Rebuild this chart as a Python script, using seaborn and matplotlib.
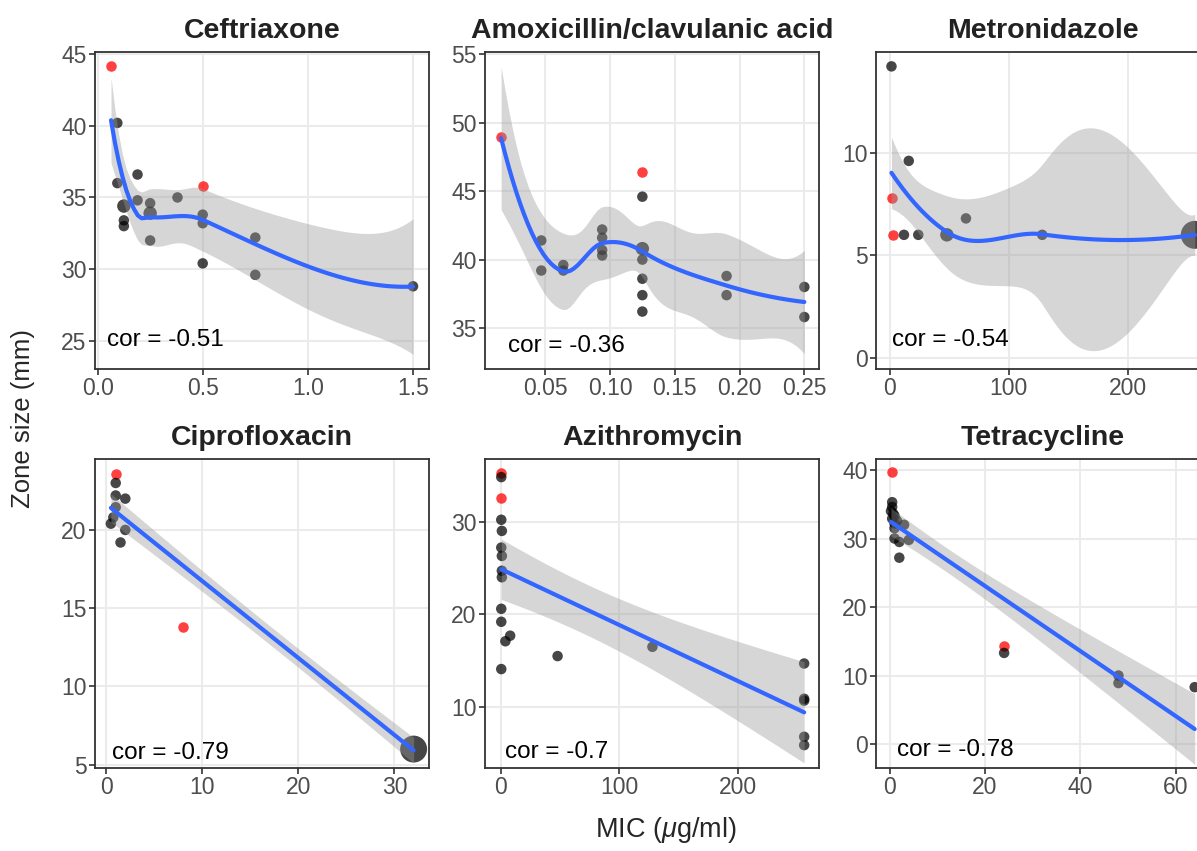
import numpy as np
import pandas as pd
import matplotlib
matplotlib.use('Agg')
import matplotlib.pyplot as plt
import seaborn as sns

# ============================
# Data
# ============================
drugs = ['Ceftriaxone', 'Amoxicillin/clavulanic acid', 'Metronidazole',
         'Ciprofloxacin', 'Azithromycin', 'Tetracycline']
methods = ['loess', 'loess', 'loess', 'lm', 'lm', 'lm']
cor_values = ['-0.51', '-0.36', '-0.54', '-0.79', '-0.7', '-0.78']

# isolates (mic, zone, count)
cef_mic = [0.094, 0.094, 0.125, 0.125, 0.125, 0.19, 0.19, 0.25, 0.25, 0.25, 0.38, 0.5, 0.5, 0.5, 0.75, 0.75, 1.5]
cef_zone = [40.2, 36.0, 34.4, 33.4, 33.0, 36.6, 34.8, 34.6, 33.9, 32.0, 35.0, 33.8, 33.2, 30.4, 32.2, 29.6, 28.8]
cef_n = [1, 1, 2, 1, 1, 1, 1, 1, 2, 1, 1, 1, 1, 1, 1, 1, 1]
cef_ref_mic = [0.064, 0.5]
cef_ref_zone = [44.2, 35.8]

amc_mic = [0.047, 0.047, 0.064, 0.064, 0.094, 0.094, 0.094, 0.094, 0.125, 0.125, 0.125, 0.125, 0.125, 0.125, 0.19, 0.19, 0.25, 0.25]
amc_zone = [41.4, 39.2, 39.6, 39.2, 42.2, 41.6, 40.7, 40.3, 44.6, 40.8, 40.0, 38.6, 37.4, 36.2, 38.8, 37.4, 38.0, 35.8]
amc_n = [1, 1, 1, 1, 1, 1, 1, 1, 1, 2, 1, 1, 1, 1, 1, 1, 1, 1]
amc_ref_mic = [0.016, 0.125]
amc_ref_zone = [49.0, 46.4]

mtz_mic = [1.5, 16, 12, 24, 48, 64, 128, 256]
mtz_zone = [14.2, 9.6, 6.0, 6.0, 6.0, 6.8, 6.0, 6.0]
mtz_n = [1, 1, 1, 1, 2, 1, 1, 12]
mtz_ref_mic = [2, 3]
mtz_ref_zone = [7.8, 6.0]

cip_mic = [1, 1, 2, 1, 0.75, 0.5, 2, 1.5, 32]
cip_zone = [23.0, 22.2, 22.0, 21.45, 20.8, 20.4, 20.0, 19.2, 6.0]
cip_n = [1, 1, 1, 1, 1, 1, 1, 1, 11]
cip_ref_mic = [1, 8]
cip_ref_zone = [23.6, 13.8]

azm_mic = [0.5, 0.5, 1, 0.5, 1, 1, 1, 0.5, 0.5, 4, 8, 0.5, 48, 128, 256, 256, 256, 256, 256]
azm_zone = [34.8, 30.2, 29.0, 27.2, 26.3, 24.7, 24.0, 20.6, 19.2, 17.1, 17.7, 14.1, 15.5, 16.5, 14.7, 10.9, 10.7, 6.8, 5.9]
azm_n = [1] * 19
azm_ref_mic = [0.5, 0.5]
azm_ref_zone = [35.2, 32.6]

tet_mic = [0.5, 0.5, 0.25, 0.75, 1, 0.5, 1.5, 1, 1, 3, 1, 2, 4, 2, 24, 48, 48, 64]
tet_zone = [35.3, 34.6, 34.0, 33.6, 33.3, 32.9, 32.6, 32.2, 31.5, 32.0, 30.0, 29.5, 29.8, 27.2, 13.3, 10.0, 8.9, 8.3]
tet_n = [1] * 18
tet_ref_mic = [0.5, 24]
tet_ref_zone = [39.7, 14.3]

isolates = [(cef_mic, cef_zone, cef_n), (amc_mic, amc_zone, amc_n), (mtz_mic, mtz_zone, mtz_n),
            (cip_mic, cip_zone, cip_n), (azm_mic, azm_zone, azm_n), (tet_mic, tet_zone, tet_n)]
references = [(cef_ref_mic, cef_ref_zone), (amc_ref_mic, amc_ref_zone), (mtz_ref_mic, mtz_ref_zone),
              (cip_ref_mic, cip_ref_zone), (azm_ref_mic, azm_ref_zone), (tet_ref_mic, tet_ref_zone)]

x_ticks = [[0, 0.5, 1.0, 1.5], [0.05, 0.10, 0.15, 0.20, 0.25], [0, 100, 200],
           [0, 10, 20, 30], [0, 100, 200], [0, 20, 40, 60]]
x_ticklabels = [['0.0', '0.5', '1.0', '1.5'], ['0.05', '0.10', '0.15', '0.20', '0.25'], ['0', '100', '200'],
                ['0', '10', '20', '30'], ['0', '100', '200'], ['0', '20', '40', '60']]
y_ticks = [[25, 30, 35, 40, 45], [35, 40, 45, 50, 55], [0, 5, 10],
           [5, 10, 15, 20], [10, 20, 30], [0, 10, 20, 30, 40]]
x_lims = [(-0.012, 1.576), (0.0036, 0.2613), (-11.5, 268.7), (-1.15, 33.6), (-13.2, 268.5), (-2.9, 67.2)]
y_lims = [(23.03, 45.15), (32.0, 55.18), (-0.53, 14.9), (4.79, 24.53), (3.43, 36.75), (-3.5, 41.6)]


# ============================
# Smoothers
# ============================
def t975(df):
    z = 1.959964
    return (z + (z**3 + z) / (4 * df) + (5 * z**5 + 16 * z**3 + 3 * z) / (96 * df**2)
            + (3 * z**7 + 19 * z**5 + 17 * z**3 - 15 * z) / (384 * df**3))


def loess_band(x, y, grid, span=0.75, cell=0.2):
    # local quadratic fit on a k-d tree of vertices + cubic Hermite interpolation (like R loess)
    n = len(x)
    q = int(np.floor(n * span))

    def local_rows(x0):
        d = np.abs(x - x0)
        h = np.sort(d)[q - 1]
        u = np.clip(d / h, 0, 1)
        w = (1 - u**3)**3
        X = np.column_stack([np.ones(n), x - x0, (x - x0)**2])
        XtW = X.T * w
        B = np.linalg.pinv(XtW @ X, rcond=1e-10) @ XtW
        return B[0], B[1]

    xs = np.sort(x)
    mu = 0.005 * (xs[-1] - xs[0])
    fc = int(np.floor(n * span * cell))
    verts = {xs[0] - mu, xs[-1] + mu}

    def split(lo, up, vlo, vhi):
        if up - lo + 1 <= fc:
            return
        m = (lo + up) // 2
        off = 0
        while lo <= m + off < up:
            if xs[m + off] == xs[m + off + 1]:
                off = -off
                if off >= 0:
                    off += 1
            else:
                m = m + off
                break
        v = xs[m]
        if v == vlo or v == vhi:
            return
        verts.add(v)
        split(lo, m, vlo, v)
        split(m + 1, up, v, vhi)

    split(0, n - 1, xs[0] - mu, xs[-1] + mu)
    V = np.array(sorted(verts))
    rows = [local_rows(v) for v in V]
    Lv = np.array([r[0] for r in rows])
    Sv = np.array([r[1] for r in rows])

    def interp(z):
        j = min(max(np.searchsorted(V, z) - 1, 0), len(V) - 2)
        hh = V[j + 1] - V[j]
        t = (z - V[j]) / hh
        return ((2 * t**3 - 3 * t**2 + 1) * Lv[j] + (t**3 - 2 * t**2 + t) * hh * Sv[j]
                + (-2 * t**3 + 3 * t**2) * Lv[j + 1] + (t**3 - t**2) * hh * Sv[j + 1])

    L = np.array([interp(v) for v in x])
    R = np.eye(n) - L
    M = R.T @ R
    d1 = np.trace(M)
    d2 = np.trace(M @ M)
    sigma = np.sqrt(np.sum((y - L @ y)**2) / d1)
    Lg = np.array([interp(g) for g in grid])
    fit = Lg @ y
    se = sigma * np.sqrt((Lg**2).sum(axis=1))
    t = t975(d1**2 / d2)
    return fit, fit - t * se, fit + t * se


def lm_band(x, y, grid):
    n = len(x)
    b, a = np.polyfit(x, y, 1)
    s = np.sqrt(np.sum((y - (a + b * x))**2) / (n - 2))
    sxx = np.sum((x - x.mean())**2)
    fit = a + b * grid
    se = s * np.sqrt(1 / n + (grid - x.mean())**2 / sxx)
    t = t975(n - 2)
    return fit, fit - t * se, fit + t * se


# point size: diameter linear in sqrt(count), 10.5 px for 1 up to 28 px for the largest count
max_count = max(max(iso[2]) for iso in isolates)


def point_area(k):
    d_px = 10.5 + 17.5 * (np.sqrt(k) - 1) / (np.sqrt(max_count) - 1)
    return (d_px * 0.72)**2


# ============================
# Style
# ============================
sns.set_theme(style='whitegrid')
plt.rcParams['font.family'] = ['Liberation Sans', 'DejaVu Sans']
plt.rcParams['mathtext.fontset'] = 'custom'
plt.rcParams['mathtext.it'] = 'Liberation Sans:italic'
plt.rcParams['mathtext.rm'] = 'Liberation Sans'
plt.rcParams.update({
    'axes.edgecolor': '#333333', 'axes.linewidth': 1.3,
    'grid.color': '#EBEBEB', 'grid.linewidth': 1.5,
    'xtick.bottom': True, 'ytick.left': True,
    'xtick.major.size': 4, 'ytick.major.size': 4,
    'xtick.major.width': 1.2, 'ytick.major.width': 1.2,
    'xtick.color': '#333333', 'ytick.color': '#333333',
    'xtick.labelcolor': '#4D4D4D', 'ytick.labelcolor': '#4D4D4D',
    'xtick.labelsize': 16.5, 'ytick.labelsize': 16.5,
    'xtick.major.pad': 2, 'ytick.major.pad': 2,
})

fig = plt.figure(figsize=(11.97, 8.51), dpi=100)
col_left = [0.0794, 0.4052, 0.7318]
row_bottom = [0.5664, 0.0975]
row_height = [0.3725, 0.3631]
panel_w = 0.2790
text_pos = [(0.036, 0.091), (0.069, 0.073), (0.048, 0.092), (0.05, 0.048), (0.06, 0.052), (0.063, 0.058)]

for i, drug in enumerate(drugs):
    r, c = divmod(i, 3)
    ax = fig.add_axes([col_left[c], row_bottom[r], panel_w, row_height[r]])
    ax.set_axisbelow(True)

    mic, zone, cnt = isolates[i]
    ref_mic, ref_zone = references[i]
    df = pd.DataFrame({'mic': mic, 'zone': zone, 'n': cnt})
    ref = pd.DataFrame({'mic': ref_mic, 'zone': ref_zone})

    # reference strains and isolates
    sns.scatterplot(data=ref, x='mic', y='zone', ax=ax, color='#FF0000', alpha=0.75,
                    s=point_area(1), linewidth=0, zorder=2, legend=False)
    sizes = {k: point_area(k) for k in sorted(set(cnt))}
    sns.scatterplot(data=df, x='mic', y='zone', size='n', sizes=sizes, ax=ax, color='black',
                    alpha=0.72, linewidth=0, zorder=2, legend=False)

    # smoother on all observations (counts expanded)
    xs = np.concatenate([np.repeat(mic, cnt), ref_mic]).astype(float)
    ys = np.concatenate([np.repeat(zone, cnt), ref_zone]).astype(float)
    grid = np.linspace(xs.min(), xs.max(), 80)
    if methods[i] == 'loess':
        fit, lo, hi = loess_band(xs, ys, grid)
    else:
        fit, lo, hi = lm_band(xs, ys, grid)
    ax.fill_between(grid, lo, hi, color='#999999', alpha=0.4, linewidth=0, zorder=3)
    sns.lineplot(x=grid, y=fit, ax=ax, color='#3366FF', linewidth=3, zorder=4)

    ax.set_xlim(*x_lims[i])
    ax.set_ylim(*y_lims[i])
    ax.set_xticks(x_ticks[i])
    ax.set_xticklabels(x_ticklabels[i])
    ax.set_yticks(y_ticks[i])
    ax.set_xlabel('')
    ax.set_ylabel('')
    ax.set_title(drug, fontsize=20.5, fontweight='bold', color='#222222', pad=10)
    ax.text(text_pos[i][0], text_pos[i][1], 'cor = ' + cor_values[i], transform=ax.transAxes,
            fontsize=17.5, color='black', ha='left', va='center', zorder=5)

fig.text(0.019, 0.508, 'Zone size (mm)', rotation=90, ha='center', va='center', fontsize=18.5)
fig.text(0.556, 0.025, r'MIC ($\mu$g/ml)', ha='center', va='center', fontsize=19.5)

plt.savefig('out.png', dpi=100)
